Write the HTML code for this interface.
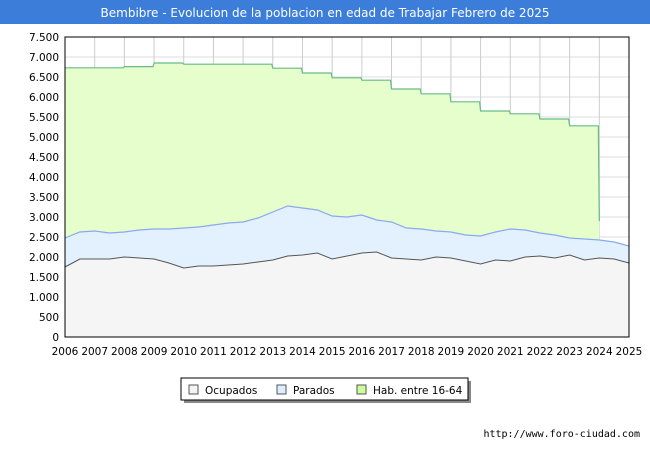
<!DOCTYPE html>
<html><head><meta charset="utf-8"><style>
body{margin:0;width:650px;height:450px;background:#fff;font-family:"DejaVu Sans","Liberation Sans",sans-serif;overflow:hidden}
svg text{font-family:"DejaVu Sans","Liberation Sans",sans-serif}
</style></head><body>
<svg width="650" height="450" xmlns="http://www.w3.org/2000/svg" id="svg">
<rect x="0" y="0" width="650" height="24" fill="#3b7dd8"/>
<text x="325" y="17" text-anchor="middle" fill="#fff" font-size="12">Bembibre - Evolucion de la poblacion en edad de Trabajar Febrero de 2025</text>
<g id="grid"></g><g id="areas"></g><g id="axes"></g>
<g>
<rect x="184" y="381" width="287" height="22" fill="#888"/>
<rect x="181" y="378" width="287" height="22" fill="#fff" stroke="#000"/>
<rect x="189" y="385" width="9" height="9" fill="#f4f4f4" stroke="#555"/>
<text x="205" y="394" font-size="10.5">Ocupados</text>
<rect x="277" y="385" width="9" height="9" fill="#ddeeff" stroke="#555"/>
<text x="293" y="394" font-size="10.5">Parados</text>
<rect x="357" y="385" width="9" height="9" fill="#ccff99" stroke="#555"/>
<text x="373" y="394" font-size="10.5">Hab. entre 16-64</text>
</g>
<text x="640" y="437" text-anchor="end" font-size="10" style="font-family:'DejaVu Sans Mono','Liberation Mono',monospace">http://www.foro-ciudad.com</text>
</svg>
<script>
const years=[2006,2007,2008,2009,2010,2011,2012,2013,2014,2015,2016,2017,2018,2019,2020,2021,2022,2023,2024,2025];
const yTicks=[0,500,1000,1500,2000,2500,3000,3500,4000,4500,5000,5500,6000,6500,7000,7500];
const habYears=[2006,2007,2008,2009,2010,2011,2012,2013,2014,2015,2016,2017,2018,2019,2020,2021,2022,2023];
const habValues=[6730,6730,6760,6850,6820,6820,6820,6720,6600,6480,6420,6200,6080,5880,5650,5580,5450,5280];
const habLast=2900;
const ocupados=[1750,1950,1950,1950,2000,1975,1950,1850,1725,1775,1775,1800,1825,1875,1925,2025,2050,2100,1950,2025,2100,2125,1975,1950,1925,2000,1975,1900,1825,1925,1900,2000,2025,1975,2050,1925,1975,1950,1850];
const parados=[725,675,700,650,625,700,750,850,1000,975,1025,1050,1050,1100,1200,1250,1175,1075,1075,975,950,800,900,775,775,650,650,650,700,700,800,675,575,575,425,525,450,425,425];
const X0=65,X1=629,Y0=337,Y1=37;
const x=t=>X0+(t-2006)/(2025-2006)*(X1-X0);
const y=v=>Y0-v/7500*(Y0-Y1);
const NS="http://www.w3.org/2000/svg";
function mk(tag,attrs,parent){const e=document.createElementNS(NS,tag);for(const k in attrs)e.setAttribute(k,attrs[k]);document.getElementById(parent).appendChild(e);return e;}
const tOf=i=>2006+i*0.5;
yTicks.forEach(v=>{const l=mk('line',{x1:X0,x2:X1,y1:y(v),y2:y(v),stroke:'#ddd'},'grid');


const t=mk('text',{x:X0-6,y:y(v)+4,'text-anchor':'end','font-size':10.5},'axes');t.textContent=v.toLocaleString('de-DE');

});
years.forEach(yr=>{const l=mk('line',{x1:x(yr),x2:x(yr),y1:Y1,y2:Y0,stroke:'#ccc'},'grid');


const t=mk('text',{x:x(yr),y:Y0+18,'text-anchor':'middle','font-size':10.5},'axes');t.textContent=yr;

});
let hp=`M${x(2006)},${y(habValues[0])}`;
habValues.forEach((v,i)=>{hp+=` L${x(habYears[i])},${y(v)} L${x(habYears[i]+1)-1},${y(v)}`;});
hp+=` L${x(2024)},${y(habLast)}`;
const habA=mk('path',{d:hp+` L${x(2024)},${Y0} L${X0},${Y0} Z`,fill:'#e6fdcc'},'areas');


const habL=mk('path',{d:hp,fill:'none',stroke:'#66bb88','stroke-width':1.2},'areas');


let ap='';ocupados.forEach((o,i)=>{ap+=(i?' L':'M')+x(tOf(i))+','+y(o+parados[i]);});
const parA=mk('path',{d:ap+` L${X1},${Y0} L${X0},${Y0} Z`,fill:'#e3f1ff'},'areas');


const parL=mk('path',{d:ap,fill:'none',stroke:'#88aaee','stroke-width':1.2},'areas');


let op='';ocupados.forEach((o,i)=>{op+=(i?' L':'M')+x(tOf(i))+','+y(o);});
const ocA=mk('path',{d:op+` L${X1},${Y0} L${X0},${Y0} Z`,fill:'#f5f5f5'},'areas');


const ocL=mk('path',{d:op,fill:'none',stroke:'#555','stroke-width':1},'areas');


const fr=mk('rect',{x:X0,y:Y1,width:X1-X0,height:Y0-Y1,fill:'none',stroke:'#000'},'axes');


</script>
</body></html>
